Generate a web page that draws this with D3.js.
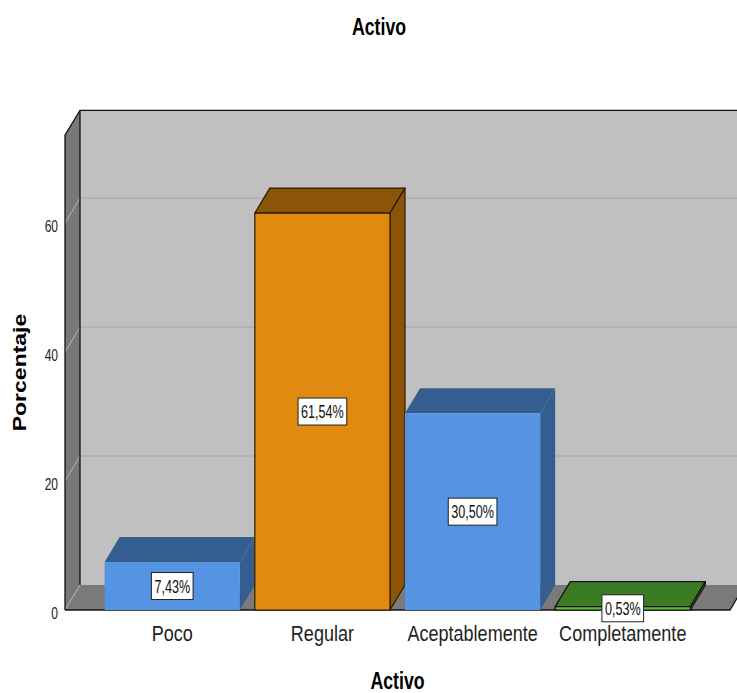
<!DOCTYPE html>
<html>
<head>
<meta charset="utf-8">
<script src="https://cdn.jsdelivr.net/npm/d3@7/dist/d3.min.js"></script>
<style>
  html, body { margin: 0; padding: 0; background: #ffffff; }
  svg { display: block; font-family: "Liberation Sans", Arial, sans-serif; }
</style>
</head>
<body>
<svg id="chart" width="737" height="693"></svg>
<script>
// Data
const categories = ["Poco", "Regular", "Aceptablemente", "Completamente"];
const values = [7.43, 61.54, 30.50, 0.53];
const valueLabels = ["7,43%", "61,54%", "30,50%", "0,53%"];
const yTicks = [0, 20, 40, 60];
const chartTitle = "Activo";
const xTitle = "Activo";
const yTitle = "Porcentaje";

// Bar fills: front face, top/side face, outline
const barFront = ["#5494e3", "#e08a10", "#5cbf3c", "#5494e3"];
const barTop = ["#345d90", "#8c5407", "#3c7a25", "#345d90"];
const barStroke = ["none", "#2a1a05", "#111111", "none"];
// Completamente uses green, Aceptablemente / Poco use blue
barFront[3] = "#5cbf3c"; barTop[3] = "#3c7a25"; barStroke[3] = "#111111";
barFront[2] = "#5494e3"; barTop[2] = "#345d90"; barStroke[2] = "none";

const svg = d3.select("#chart");

// Front plane of the 3D box and depth offset
const left = 65, right = 730, base = 610;
const DX = 15, DY = -25;

const y = d3.scaleLinear().domain([0, 73.6]).range([base, base - 73.6 * 6.45]);
const x = d3.scaleBand().domain(categories).range([left, right])
  .paddingInner(0.1).paddingOuter(0.264);

const yTop = y.range()[1];
const pts = a => a.map(p => p.join(",")).join(" ");

// Back wall
svg.append("polygon")
  .attr("points", pts([[left + DX, yTop + DY], [right + DX, yTop + DY], [right + DX, base + DY], [left + DX, base + DY]]))
  .attr("fill", "#c0c0c0");
// Left wall
svg.append("polygon")
  .attr("points", pts([[left, base], [left, yTop], [left + DX, yTop + DY], [left + DX, base + DY]]))
  .attr("fill", "#787878");
// Floor
svg.append("polygon")
  .attr("points", pts([[left, base], [right, base], [right + DX, base + DY], [left + DX, base + DY]]))
  .attr("fill", "#7a7a7a");

// Gridlines on back wall and left wall
const grid = svg.append("g");
yTicks.forEach(t => {
  if (t > 0) {
    grid.append("line")
      .attr("x1", left + DX).attr("x2", right + DX)
      .attr("y1", y(t) + DY).attr("y2", y(t) + DY)
      .attr("stroke", "#a4a4a4").attr("stroke-width", 1.2);
  }
  grid.append("line")
    .attr("x1", left).attr("y1", y(t))
    .attr("x2", left + DX).attr("y2", y(t) + DY)
    .attr("stroke", "#b4b4b4").attr("stroke-width", 1);
});

// Box edges
const edges = svg.append("g").attr("stroke", "#111").attr("stroke-width", 1.3).attr("fill", "none");
edges.append("polyline").attr("points", pts([[left, base], [left, yTop], [left + DX, yTop + DY], [right + DX, yTop + DY]]));
edges.append("line").attr("x1", left + DX).attr("y1", yTop + DY).attr("x2", left + DX).attr("y2", base + DY);
edges.append("polyline").attr("points", pts([[left, base], [right, base], [right + DX, base + DY]]));

// Bars
const bw = x.bandwidth();
const bars = svg.append("g");
categories.forEach((c, i) => {
  const x0 = x(c), x1 = x0 + bw, yv = y(values[i]);
  const g = bars.append("g")
    .attr("stroke", barStroke[i]).attr("stroke-width", 1.2).attr("stroke-linejoin", "round");
  // top face
  g.append("polygon")
    .attr("points", pts([[x0, yv], [x1, yv], [x1 + DX, yv + DY], [x0 + DX, yv + DY]]))
    .attr("fill", barTop[i]);
  // right side face
  g.append("polygon")
    .attr("points", pts([[x1, yv], [x1 + DX, yv + DY], [x1 + DX, base + DY], [x1, base]]))
    .attr("fill", barTop[i]);
  // front face
  g.append("rect")
    .attr("x", x0).attr("y", yv).attr("width", bw).attr("height", base - yv)
    .attr("fill", barFront[i]);
});

// Text helper: horizontally condensed text
function label(parent, str, cx, cy, size, sx, opts = {}) {
  return parent.append("text")
    .attr("transform", `translate(${cx},${cy}) scale(${sx},1)`)
    .attr("text-anchor", opts.anchor || "middle")
    .attr("font-size", size)
    .attr("font-weight", opts.bold ? "bold" : "normal")
    .attr("fill", opts.fill || "#222")
    .text(str);
}

// Value labels in boxes
const vl = svg.append("g");
categories.forEach((c, i) => {
  const cx = x(c) + bw / 2;
  const cy = (base + y(values[i])) / 2;
  const t = label(vl, valueLabels[i], cx, cy + 6.5, 18, 0.7, { fill: "#111" });
  const w = t.node().getComputedTextLength() * 0.7 + 6;
  vl.insert("rect", "text")
    .attr("x", cx - w / 2).attr("y", cy - 13.5)
    .attr("width", w).attr("height", 27)
    .attr("fill", "#ffffff").attr("stroke", "#222").attr("stroke-width", 1);
});

// Y tick labels
const yl = svg.append("g");
yTicks.forEach(t => label(yl, String(t), 58, y(t) + 8.5, 16, 0.75, { anchor: "end" }));

// Category labels
const xl = svg.append("g");
categories.forEach(c => label(xl, c, x(c) + bw / 2, 641, 22, 0.82));

// Titles
label(svg, chartTitle, 379, 35, 23, 0.77, { bold: true, fill: "#000" });
label(svg, xTitle, 397.5, 689, 23, 0.77, { bold: true, fill: "#000" });
svg.append("text")
  .attr("transform", "translate(26,372.5) rotate(-90) scale(1,0.8)")
  .attr("text-anchor", "middle")
  .attr("font-size", 23).attr("font-weight", "bold").attr("fill", "#000")
  .text(yTitle);
</script>
</body>
</html>
